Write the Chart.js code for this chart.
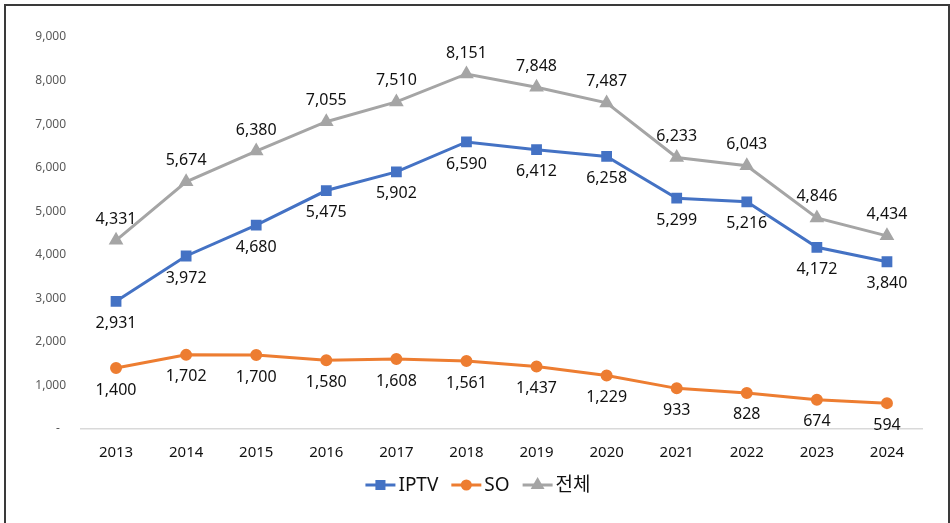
<!DOCTYPE html>
<html>
<head>
<meta charset="utf-8">
<script src="https://cdn.jsdelivr.net/npm/chart.js@4"></script>
<style>
  html, body { margin: 0; padding: 0; background: #fff; overflow: hidden; }
  #wrap { position: relative; width: 950px; height: 523px; }
  #frame {
    position: absolute; left: 4px; top: 4px; width: 942px; height: 540px;
    border-left: 2px solid #3a3a3a; border-top: 2px solid #3a3a3a; border-right: 2px solid #3a3a3a;
    pointer-events: none;
  }
</style>
</head>
<body>
<div id="wrap">
  <canvas id="chart" width="950" height="523"></canvas>
  <div id="frame"></div>
</div>
<script>
// data
const years = ["2013","2014","2015","2016","2017","2018","2019","2020","2021","2022","2023","2024"];
const iptv = [2931, 3972, 4680, 5475, 5902, 6590, 6412, 6258, 5299, 5216, 4172, 3840];
const so = [1400, 1702, 1700, 1580, 1608, 1561, 1437, 1229, 933, 828, 674, 594];
const total = [4331, 5674, 6380, 7055, 7510, 8151, 7848, 7487, 6233, 6043, 4846, 4434];
const yTicks = [0, 1000, 2000, 3000, 4000, 5000, 6000, 7000, 8000, 9000];

const FONT = "'Noto Sans', 'Noto Sans CJK KR', sans-serif";

// value labels next to each point
const labelPlugin = {
  id: "valueLabels",
  afterDatasetsDraw(chart) {
    const ctx = chart.ctx;
    ctx.save();
    ctx.font = "16px " + FONT;
    ctx.fillStyle = "#111";
    ctx.textAlign = "center";
    ctx.textBaseline = "middle";
    chart.data.datasets.forEach((ds, i) => {
      const meta = chart.getDatasetMeta(i);
      meta.data.forEach((pt, j) => {
        ctx.fillText(ds.data[j].toLocaleString("en-US"), pt.x, pt.y + ds.labelOffset);
      });
    });
    ctx.restore();
  }
};

// legend with line + marker, like the office style one
const legendPlugin = {
  id: "lineLegend",
  afterDraw(chart) {
    const ctx = chart.ctx;
    const y = 485;
    ctx.save();
    ctx.font = "19px " + FONT;
    ctx.textBaseline = "middle";
    const items = chart.data.datasets.map(ds => ({ ds, w: 30 + 3 + ctx.measureText(ds.label).width }));
    const gap = 13;
    const totalW = items.reduce((s, it) => s + it.w, 0) + gap * (items.length - 1);
    let x = chart.width / 2 - totalW / 2 + 3;
    items.forEach(it => {
      const ds = it.ds;
      ctx.strokeStyle = ds.borderColor;
      ctx.lineWidth = 3;
      ctx.beginPath();
      ctx.moveTo(x, y);
      ctx.lineTo(x + 30, y);
      ctx.stroke();
      Chart.helpers.drawPoint(ctx, {
        pointStyle: ds.pointStyle, radius: ds.pointRadius - 0.5, borderWidth: 1
      }, x + 15, y);
      ctx.fillStyle = ds.borderColor;
      ctx.fill();
      ctx.fillStyle = "#111";
      ctx.fillText(ds.label, x + 33, y + 1);
      x += it.w + gap;
    });
    ctx.restore();
  }
};

const ctx = document.getElementById("chart").getContext("2d");
const chart = new Chart(ctx, {
  type: "line",
  data: {
    labels: years,
    datasets: [
      { label: "IPTV", data: iptv, borderColor: "#4472C4", backgroundColor: "#4472C4",
        pointStyle: "rect", pointRadius: 5.5, borderWidth: 3, labelOffset: 22 },
      { label: "SO", data: so, borderColor: "#ED7D31", backgroundColor: "#ED7D31",
        pointStyle: "circle", pointRadius: 4.5, borderWidth: 3, labelOffset: 22 },
      { label: "전체", data: total, borderColor: "#A5A5A5", backgroundColor: "#A5A5A5",
        pointStyle: "triangle", pointRadius: 5.5, borderWidth: 3, labelOffset: -21 }
    ]
  },
  options: {
    responsive: false,
    animation: false,
    layout: { padding: { left: 0, right: 28, top: 37, bottom: 0 } },
    plugins: { legend: { display: false }, tooltip: { enabled: false } },
    elements: { line: { tension: 0 }, point: { borderWidth: 1 } },
    scales: {
      x: {
        offset: true,
        grid: { display: false, drawTicks: false },
        border: { display: true, color: "#D9D9D9", width: 1.5 },
        ticks: { color: "#111", font: { family: FONT, size: 15 }, padding: 15 },
        afterFit: s => { s.height = 94; }
      },
      y: {
        min: 0, max: 9000,
        grid: { display: false, drawTicks: false },
        border: { display: false },
        afterBuildTicks: s => { s.ticks = yTicks.map(v => ({ value: v })); },
        ticks: {
          color: "#595959", font: { family: FONT, size: 12 }, padding: 15,
          callback: v => v === 0 ? "-  " : v.toLocaleString("en-US")
        },
        afterFit: s => { s.width = 81; }
      }
    }
  },
  plugins: [labelPlugin, legendPlugin]
});
</script>
</body>
</html>
